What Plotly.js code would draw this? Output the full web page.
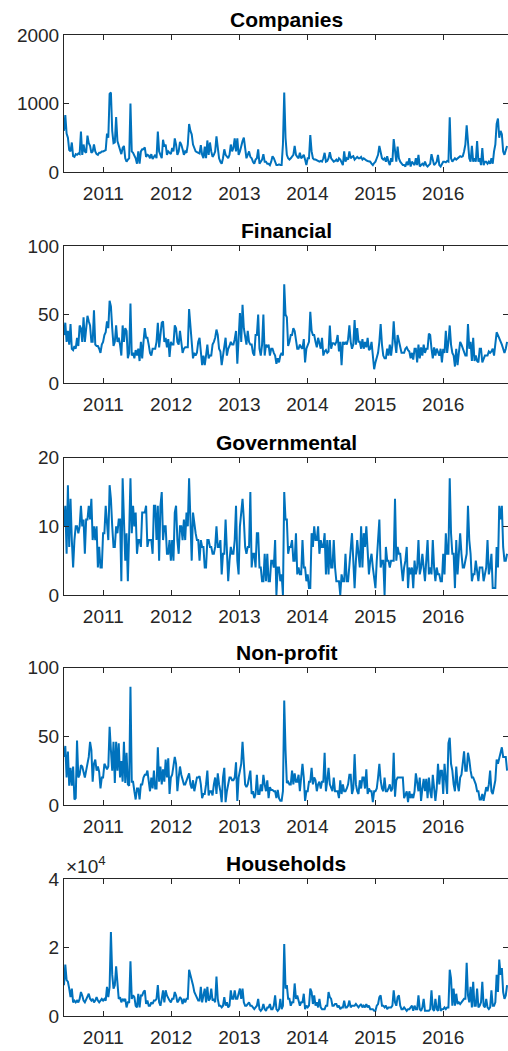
<!DOCTYPE html>
<html>
<head>
<meta charset="utf-8">
<script src="https://cdn.plot.ly/plotly-3.0.1.min.js"></script>
<style>
html,body{margin:0;padding:0;background:#fff;}
#chart{width:508px;height:1051px;}
</style>
</head>
<body>
<div id="chart"></div>
<script>
// Weekly observations starting at this date
const startDate = '2010-06-04';
const stepDays = 7;

const titles = ['Companies', 'Financial', 'Governmental', 'Non-profit', 'Households'];
const yearTicks = ['2011-01-01','2012-01-01','2013-01-01','2014-01-01','2015-01-01','2016-01-01'];
const yearLabels = ['2011','2012','2013','2014','2015','2016'];

const companies = [
600,830,560,500,320,300,430,230,220,260,
250,270,260,590,250,400,300,280,530,420,
380,280,300,400,300,260,250,280,280,300,
300,310,320,560,500,1140,1160,600,420,430,
800,450,380,300,260,350,380,200,150,180,
200,1000,300,280,250,200,120,300,120,300,
330,330,360,220,250,240,200,260,190,230,
250,200,590,300,250,200,470,370,400,250,
300,280,260,350,300,490,400,250,300,440,
400,330,250,300,280,400,700,600,550,400,
350,300,290,280,270,390,250,200,370,200,
460,250,430,300,220,250,300,520,300,200,
150,120,200,330,250,220,200,250,400,300,
350,490,300,490,250,300,400,450,500,350,
200,250,300,220,200,150,120,180,200,330,
120,150,180,260,150,150,120,120,100,150,
230,200,150,100,100,110,100,100,400,1160,
500,250,200,180,200,220,250,380,250,220,
200,280,200,220,250,180,100,200,200,540,
300,200,180,180,170,160,150,160,150,200,
280,150,160,200,290,200,180,150,160,180,
150,200,180,150,100,300,150,200,180,300,
200,220,230,180,200,220,200,200,220,180,
200,180,170,160,150,150,120,100,130,150,
200,250,380,300,200,180,200,150,230,150,
100,200,150,480,350,150,370,200,150,120,
100,100,80,150,100,200,80,150,130,100,
200,100,250,80,100,120,100,150,100,80,
100,120,260,150,100,120,150,250,100,80,
120,150,150,140,160,150,800,200,150,180,
200,180,200,220,230,220,230,300,400,680,
350,200,150,380,150,200,150,450,150,200,
100,350,100,150,150,120,150,120,200,120,
300,400,700,780,500,600,550,300,250,300,380];

const financial = [
35,44,30,38,28,43,25,24,27,25,
33,27,42,40,30,48,30,38,49,45,
42,30,30,53,28,27,27,25,22,28,
30,35,37,45,40,60,56,40,27,30,
42,30,33,28,20,42,30,40,38,18,
22,58,20,22,18,24,20,25,16,30,
18,30,40,33,33,28,22,20,25,25,
25,30,44,26,35,44,45,30,33,26,
32,19,30,28,28,42,40,30,28,38,
30,22,25,26,26,26,54,40,30,18,
22,20,22,30,33,22,13,20,13,20,
28,18,20,20,28,30,33,39,35,25,
23,13,20,30,33,20,25,27,30,28,
28,32,38,14,30,51,30,57,40,33,
28,38,30,28,28,22,20,35,35,50,
25,20,28,50,20,28,26,28,20,25,
25,22,20,14,18,15,20,22,20,72,
50,48,27,30,35,35,40,38,32,25,
25,28,26,25,32,15,25,27,30,52,
38,35,35,30,26,33,28,25,33,20,
23,24,22,23,42,25,29,29,28,30,
35,23,30,13,30,28,30,28,32,42,
30,25,28,46,28,40,30,30,25,32,
25,30,26,33,24,25,30,18,10,15,
18,22,30,43,28,20,18,18,25,20,
28,20,28,45,30,22,35,30,25,22,
22,22,25,26,24,23,18,22,17,25,
25,15,28,18,26,20,28,22,25,25,
36,35,25,18,26,20,25,22,20,25,
15,25,22,38,22,30,42,28,22,20,
12,25,13,22,30,28,25,22,20,20,
43,25,30,16,33,16,20,16,15,25,
25,15,18,20,20,20,23,22,23,25,
20,28,37,35,33,30,28,25,22,25,30];

const governmental = [
10,13,6,16,7,14,8,4,8,10,
10,9,10,13,10,11,6,11,11,13,
11,14,8,10,8,10,4,7,4,4,
9,9,13,11,8,16,14,10,7,7,
10,9,11,11,2,17,10,5,9,2,
9,17,9,13,10,12,6,8,8,7,
12,12,12,13,7,8,8,8,6,13,
13,8,13,5,13,15,8,10,10,6,
6,8,5,8,5,12,13,8,6,10,
10,8,11,8,12,10,17,10,5,12,
10,9,8,8,5,8,7,7,4,4,
8,8,7,7,6,6,7,10,7,7,
8,3,6,6,11,5,2,5,7,6,
6,8,13,5,3,10,12,14,11,7,
6,7,7,15,4,6,6,4,9,9,
4,4,2,2,6,2,6,2,2,5,
5,4,8,0,4,4,2,3,0,15,
11,11,6,7,7,8,5,5,9,3,
4,3,3,8,4,4,2,3,1,1,
9,7,10,8,8,10,6,8,7,7,
9,3,8,3,8,4,4,8,4,2,
2,2,0,3,2,2,6,2,2,4,
6,9,5,1,5,8,6,4,10,4,
9,7,10,7,3,5,6,4,2,1,
5,9,11,4,5,5,0,7,5,5,
4,5,5,5,14,5,7,6,6,4,
2,4,5,7,1,4,3,4,1,5,
3,4,8,3,4,6,4,2,5,8,
3,4,3,8,4,2,4,3,3,2,
2,6,3,9,6,6,17,9,6,6,
1,8,3,6,9,6,4,4,5,6,
13,8,6,2,3,3,5,3,2,4,
4,4,2,3,4,8,3,4,6,1,
1,1,7,4,13,11,13,7,5,5,6];

const nonprofit = [
35,43,20,39,14,27,14,28,4,5,
47,20,22,29,28,24,20,25,30,35,
46,40,17,30,33,25,28,24,12,20,
20,30,28,26,28,57,40,25,46,16,
46,25,45,20,32,17,46,16,38,15,
14,86,17,17,10,4,12,12,4,15,
15,20,22,22,25,18,10,20,12,25,
12,12,42,17,28,15,26,17,33,20,
34,8,20,22,30,35,30,10,20,28,
22,18,15,15,18,20,23,15,12,18,
10,15,20,20,21,15,5,8,8,15,
25,7,10,10,7,15,20,8,23,15,
10,2,20,27,2,10,15,20,20,18,
18,20,31,3,20,26,30,46,30,15,
13,15,20,25,8,10,5,8,22,8,
8,15,10,22,15,10,18,5,13,11,
11,10,10,5,11,5,3,3,10,76,
40,16,17,15,15,25,15,23,17,17,
22,10,20,30,20,3,10,10,17,17,
27,15,20,18,10,15,17,12,17,17,
38,10,18,27,15,12,10,20,10,10,
10,5,18,8,15,10,10,12,15,22,
22,8,12,37,15,10,8,18,12,20,
20,12,26,8,12,10,10,2,10,10,
12,20,30,18,12,10,20,10,10,12,
15,10,12,38,6,18,20,20,20,20,
20,5,8,10,2,10,5,8,5,10,
23,15,10,20,3,12,19,10,19,5,
20,10,5,22,10,3,12,30,15,25,
25,8,30,15,8,45,49,30,25,15,
10,28,15,10,20,22,30,39,25,25,
38,33,25,20,20,18,15,10,10,4,
4,8,3,8,13,10,15,25,10,8,
15,18,33,30,34,38,42,35,35,35,25];

const households = [
9000,15000,10500,10000,8000,5500,8000,4000,4500,4000,
4500,4000,5000,7000,6000,4500,4000,5000,5500,6500,
5000,4500,5000,4000,4500,5500,4500,4000,4500,5000,
4500,5000,4500,8500,5500,8500,24500,12000,8000,9000,
14500,8000,5000,5500,4000,5000,4500,5000,2500,4000,
4000,16000,5000,6000,5500,3000,2500,6500,2500,6000,
6000,7000,7500,3500,4500,3000,3000,4000,3500,4500,
4500,5000,9000,4000,3000,5000,7500,4000,7500,6000,
5000,4500,4000,5000,5000,7000,6000,4000,4500,5500,
5000,3500,5000,4000,5000,5000,13500,12000,11000,9000,
7000,6000,5000,4500,4500,8500,4000,6000,8000,4000,
8500,4500,5000,8000,4500,5000,4000,11500,5000,3000,
3000,2500,3000,5500,3000,4000,2500,3000,7500,5000,
5000,7500,5000,5000,6500,8000,5000,8000,4000,3000,
3000,3500,4000,3000,3000,2500,2000,2500,3000,5000,
2000,1500,2000,3500,2000,1500,2500,2500,3500,2000,
2000,3000,6000,2000,1500,2000,5000,2000,3000,21000,
8000,9000,5000,5000,3000,4000,4000,9500,5000,6000,
4000,3000,4000,4000,6500,2000,3000,2500,3000,8000,
7000,3500,6000,3000,4000,2500,5000,2500,2000,2000,
2000,3000,3000,7000,5500,5000,3000,3000,3500,3500,
2500,3000,2000,2500,2500,4500,2500,2500,3000,4500,
2500,3000,3000,3000,3500,3000,2500,3000,3500,2500,
3000,2500,3500,2500,3000,2000,2000,2000,1500,1500,
3000,3500,5500,6000,3000,3000,2500,3000,2000,2500,
2500,2500,3000,7500,4000,3000,5500,6000,3000,2000,
2000,2500,2000,1500,2000,2000,2500,3000,1500,3000,
2000,2000,6000,2000,1500,2500,5000,1500,1500,1500,
1500,2000,7500,2000,1500,5000,2000,1500,6000,1500,
2000,2000,2500,2000,2500,2500,13500,11000,3000,8000,
3000,6500,3500,4000,3500,4000,4500,5000,5000,15500,
6000,4000,8500,2500,10000,3000,3000,8000,2500,3000,
4000,10000,3000,2500,5000,2500,2000,2500,7500,3000,
3000,4000,12000,7000,16500,12000,14000,7000,5000,6000,9000];

const yRanges = [[0,2000],[0,100],[0,20],[0,100],[0,40000]];
const yTickVals = [[0,1000,2000],[0,50,100],[0,10,20],[0,50,100],[0,20000,40000]];
const yTickText = [['0','1000','2000'],['0','50','100'],['0','10','20'],['0','50','100'],['0','2','4']];
const domains = [[0.8604,1],[0.6453,0.7849],[0.4292,0.5691],[0.2151,0.3551],[0,0.1397]];

const series = [companies, financial, governmental, nonprofit, households];

function weekDates(n){
  const t0 = Date.parse(startDate + 'T00:00:00Z');
  const out = [];
  for (let i=0;i<n;i++) out.push(new Date(t0 + i*stepDays*86400000).toISOString().slice(0,10));
  return out;
}

const FONT = 'Liberation Sans, Arial, Helvetica, sans-serif';
const AX = '#262626';
const traces = [];
const layout = {
  width: 508, height: 1051,
  margin: {l:64, r:0, t:35, b:35, pad:0},
  paper_bgcolor:'#fff', plot_bgcolor:'#fff',
  showlegend:false,
  font:{family:FONT, size:19, color:AX},
  annotations:[]
};

series.forEach((vals, k) => {
  const s = k===0 ? '' : String(k+1);
  traces.push({
    x: weekDates(vals.length), y: vals, type:'scatter', mode:'lines',
    xaxis:'x'+s, yaxis:'y'+s,
    line:{color:'#0072BD', width:2}, hoverinfo:'skip'
  });
  layout['xaxis'+s] = {
    type:'date', range:['2010-06-04','2016-12-14'], domain:[0,1], anchor:'y'+s,
    tickvals: yearTicks, ticktext: yearLabels,
    ticks:'inside', ticklen:5, tickwidth:1, tickcolor:AX,
    showline:true, linecolor:AX, linewidth:1, mirror:'allticks',
    showgrid:false, zeroline:false, ticklabelstandoff:4,
    tickfont:{family:FONT, size:19, color:AX}
  };
  layout['yaxis'+s] = {
    range: yRanges[k], domain: domains[k], anchor:'x'+s,
    tickvals: yTickVals[k], ticktext: yTickText[k],
    ticks:'inside', ticklen:5, tickwidth:1, tickcolor:AX,
    showline:true, linecolor:AX, linewidth:1, mirror:'allticks',
    showgrid:false, zeroline:false,
    tickfont:{family:FONT, size:19, color:AX}
  };
  layout.annotations.push({
    text: titles[k], xref:'paper', yref:'paper', x:0.5, y:domains[k][1],
    xanchor:'center', yanchor:'bottom', showarrow:false, yshift:2,
    font:{family:FONT, size:21, color:'#000', weight:'bold'}
  });
});

layout.annotations.push({
  text:'×10<sup>4</sup>', xref:'paper', yref:'paper', x:0, y:domains[4][1],
  xanchor:'left', yanchor:'bottom', showarrow:false, yshift:0, xshift:0,
  font:{family:FONT, size:19, color:AX}
});

Plotly.newPlot('chart', traces, layout, {staticPlot:true, displayModeBar:false});
</script>
</body>
</html>
